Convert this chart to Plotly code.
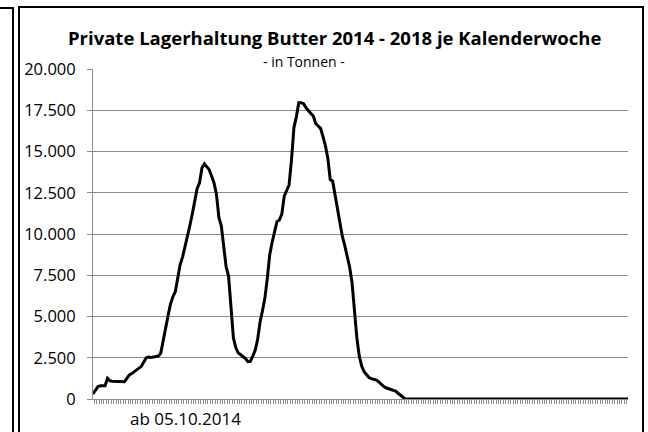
import pandas as pd
import plotly.graph_objects as go

# Weekly stock in private storage (tonnes), weeks starting 05.10.2014
start_week = "2014-10-05"
n_weeks = 222
stock_t = [
    300, 500, 750, 800, 800, 800, 1250, 1100, 1080, 1070,
    1060, 1050, 1050, 1050, 1250, 1460, 1540, 1650, 1780, 1900,
    1980, 2250, 2500, 2550, 2520, 2550, 2570, 2600, 2780, 3600,
    4400, 5050, 5750, 6200, 6500, 7450, 8150, 8600, 9200, 9850,
    10500, 11200, 12100, 12750, 13100, 14000, 14250, 14100, 13900, 13500,
    13100, 12400, 11000, 10500, 9100, 8000, 7450, 5300, 3700, 3100,
    2800, 2680, 2580, 2450, 2260, 2280, 2600, 2950, 3600, 4650,
    5350, 6100, 7300, 8750, 9500, 10150, 10750, 10850, 11200, 12300,
    12700, 12970, 14500, 16450, 17100, 17950, 17950, 17900, 17650, 17450,
    17300, 17150, 16700, 16550, 16400, 15900, 15350, 14600, 13300, 13200,
    12400, 11350, 10600, 9850, 9300, 8700, 8000, 7050, 5400, 3700,
    2600, 2000, 1650, 1450, 1300, 1230, 1200, 1150, 1050, 900,
    770, 680, 620, 570, 520, 480, 350, 220, 100, 0,
    0, 0, 0, 0, 0, 0, 0, 0, 0, 0,
    0, 0, 0, 0, 0, 0, 0, 0, 0, 0,
    0, 0, 0, 0, 0, 0, 0, 0, 0, 0,
    0, 0, 0, 0, 0, 0, 0, 0, 0, 0,
    0, 0, 0, 0, 0, 0, 0, 0, 0, 0,
    0, 0, 0, 0, 0, 0, 0, 0, 0, 0,
    0, 0, 0, 0, 0, 0, 0, 0, 0, 0,
    0, 0, 0, 0, 0, 0, 0, 0, 0, 0,
    0, 0, 0, 0, 0, 0, 0, 0, 0, 0,
    0, 0,
]
y_ticks = [0, 2500, 5000, 7500, 10000, 12500, 15000, 17500, 20000]

title_text = "Private Lagerhaltung Butter 2014 - 2018 je Kalenderwoche"
subtitle_text = "- in Tonnen -"
x_title = "ab 05.10.2014"

weeks = pd.date_range(start_week, periods=n_weeks, freq="7D").strftime("%d.%m.%Y").tolist()

W, H = 648, 432
L, R, T, B = 93, 628, 69, 399


def px(x):
    return (x - L) / (R - L)


def py(y):
    return (B - y) / (B - T)


fig = go.Figure()
fig.add_trace(go.Scatter(
    x=weeks, y=stock_t, mode="lines",
    line=dict(color="black", width=3), hoverinfo="x+y",
))

font_main = "Open Sans, DejaVu Sans, sans-serif"

fig.update_layout(
    width=W, height=H,
    margin=dict(l=L, r=W - R, t=T, b=H - B),
    paper_bgcolor="white", plot_bgcolor="white",
    separators=",.",
    showlegend=False,
    font=dict(family=font_main, color="black"),
    xaxis=dict(
        type="category", showticklabels=False,
        tickmode="linear", dtick=1, tickson="boundaries",
        ticks="outside", ticklen=4, tickcolor="#8c8c8c", tickwidth=1,
        showgrid=False, showline=True, linecolor="#8c8c8c", linewidth=1,
        zeroline=False,
    ),
    yaxis=dict(
        range=[0, 20000], tickvals=y_ticks, tickformat=",d",
        ticks="outside", ticklen=5, tickcolor="#8c8c8c",
        ticklabelstandoff=8,
        showgrid=True, gridcolor="#8c8c8c", gridwidth=1,
        showline=True, linecolor="#8c8c8c", linewidth=1,
        zeroline=False,
        tickfont=dict(size=16.5, family=font_main, color="black"),
    ),
    annotations=[
        dict(text="<b>" + title_text + "</b>", xref="paper", yref="paper",
             x=px(334), y=py(37), showarrow=False, xanchor="center", yanchor="middle",
             font=dict(size=18.5, family=font_main, color="black")),
        dict(text=subtitle_text, xref="paper", yref="paper",
             x=px(304), y=py(62), showarrow=False, xanchor="center", yanchor="middle",
             font=dict(size=14, family=font_main, color="black")),
        dict(text=x_title, xref="paper", yref="paper",
             x=px(185), y=py(418), showarrow=False, xanchor="center", yanchor="middle",
             font=dict(size=17, family=font_main, color="black")),
    ],
    shapes=[
        # chart frame
        dict(type="rect", xref="paper", yref="paper",
             x0=px(19), x1=px(643), y0=py(440), y1=py(7),
             line=dict(color="black", width=2), fillcolor="rgba(0,0,0,0)", layer="above"),
        # edge of neighbouring frame
        dict(type="path", xref="paper", yref="paper",
             path=f"M {px(-5)},{py(8)} L {px(13)},{py(8)} L {px(13)},{py(440)}",
             line=dict(color="black", width=2)),
    ],
)

fig.write_html("out.html")
